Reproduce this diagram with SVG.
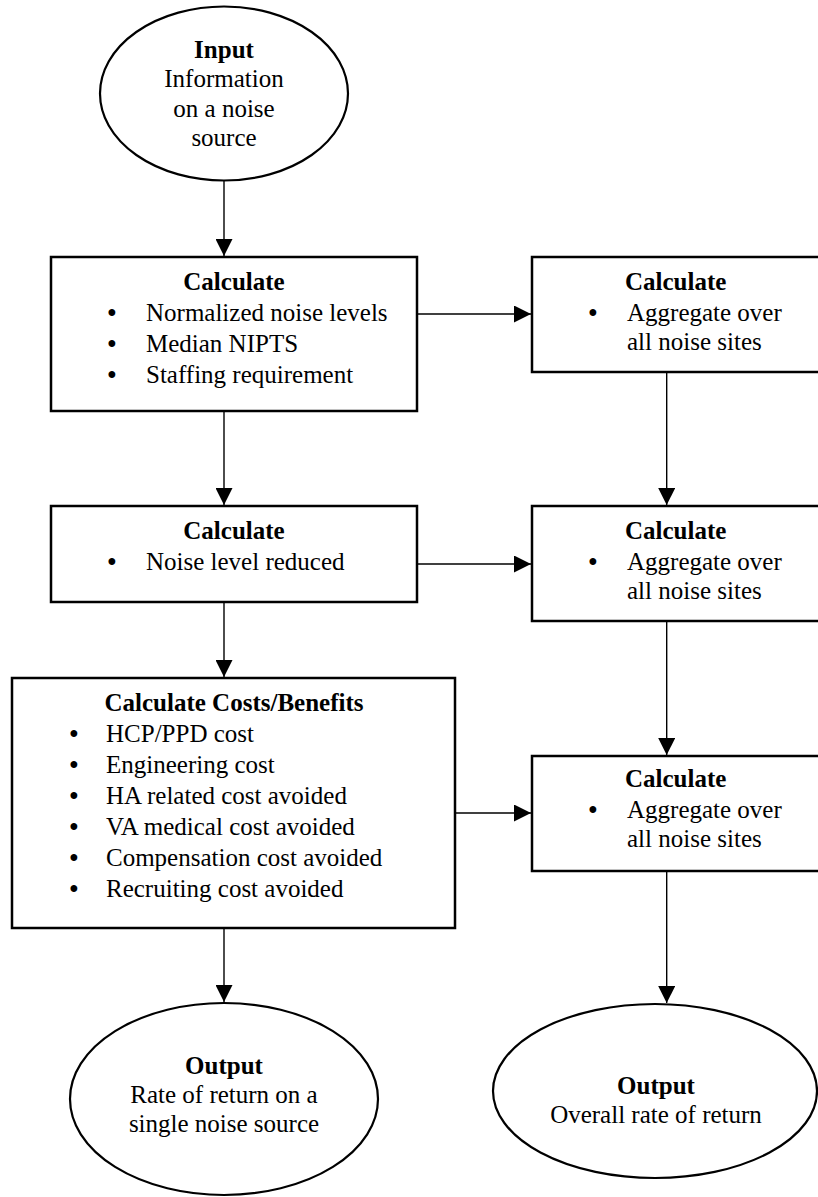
<svg xmlns="http://www.w3.org/2000/svg" width="818" height="1197" viewBox="0 0 818 1197">
<style>
  text { font-family: "Liberation Serif", "DejaVu Serif", serif; font-size: 25px; fill: #000; }
  .b { font-weight: bold; }
  .c { text-anchor: middle; }
  .bu { text-anchor: middle; font-weight: bold; }
  .box { fill: #fff; stroke: #000; stroke-width: 2.5; }
  .ell { fill: #fff; stroke: #000; stroke-width: 2.2; }
  .conn { stroke: #000; stroke-width: 1.4; fill: none; marker-end: url(#arr); }
</style>
<defs>
  <marker id="arr" markerUnits="userSpaceOnUse" markerWidth="17" markerHeight="17" viewBox="0 0 16 16" refX="16" refY="8" orient="auto">
    <path d="M0,0 L16,8 L0,16 Z" fill="#000"/>
  </marker>
</defs>
<rect width="818" height="1197" fill="#fff"/>

<g id="connectors">
  <line class="conn" x1="224" y1="181" x2="224" y2="256"/>
  <line class="conn" x1="418" y1="314" x2="531" y2="314"/>
  <line class="conn" x1="224" y1="412" x2="224" y2="505"/>
  <line class="conn" x1="666.7" y1="373" x2="666.7" y2="505"/>
  <line class="conn" x1="418" y1="564" x2="531" y2="564"/>
  <line class="conn" x1="224" y1="603" x2="224" y2="677"/>
  <line class="conn" x1="666.7" y1="622" x2="666.7" y2="755"/>
  <line class="conn" x1="456" y1="813" x2="531" y2="813"/>
  <line class="conn" x1="224" y1="929" x2="224" y2="1002"/>
  <line class="conn" x1="666.7" y1="872" x2="666.7" y2="1003"/>
</g>

<g id="input">
  <ellipse class="ell" cx="224" cy="93.5" rx="124" ry="87"/>
  <text class="b c" x="224" y="58">Input</text>
  <text class="c" x="224" y="87">Information</text>
  <text class="c" x="224" y="117">on a noise</text>
  <text class="c" x="224" y="146">source</text>
</g>

<g id="calc1">
  <rect class="box" x="51" y="257" width="366" height="154"/>
  <text class="b c" x="234" y="290">Calculate</text>
  <text class="bu" x="112" y="321">•</text><text x="146" y="321">Normalized noise levels</text>
  <text class="bu" x="112" y="352">•</text><text x="146" y="352">Median NIPTS</text>
  <text class="bu" x="112" y="383">•</text><text x="146" y="383">Staffing requirement</text>
</g>

<g id="agg1">
  <rect class="box" x="532" y="257" width="300" height="115"/>
  <text class="b" x="625" y="290">Calculate</text>
  <text class="bu" x="593" y="321">•</text><text x="627" y="321">Aggregate over</text>
  <text x="627" y="350">all noise sites</text>
</g>

<g id="calc2">
  <rect class="box" x="51" y="506" width="366" height="96"/>
  <text class="b c" x="234" y="539">Calculate</text>
  <text class="bu" x="112" y="570">•</text><text x="146" y="570">Noise level reduced</text>
</g>

<g id="agg2">
  <rect class="box" x="532" y="506" width="300" height="115"/>
  <text class="b" x="625" y="539">Calculate</text>
  <text class="bu" x="593" y="570">•</text><text x="627" y="570">Aggregate over</text>
  <text x="627" y="599">all noise sites</text>
</g>

<g id="costs">
  <rect class="box" x="12" y="678" width="443" height="250"/>
  <text class="b c" x="234" y="711">Calculate Costs/Benefits</text>
  <text class="bu" x="74" y="742">•</text><text x="106" y="742">HCP/PPD cost</text>
  <text class="bu" x="74" y="773">•</text><text x="106" y="773">Engineering cost</text>
  <text class="bu" x="74" y="804">•</text><text x="106" y="804">HA related cost avoided</text>
  <text class="bu" x="74" y="835">•</text><text x="106" y="835">VA medical cost avoided</text>
  <text class="bu" x="74" y="866">•</text><text x="106" y="866">Compensation cost avoided</text>
  <text class="bu" x="74" y="897">•</text><text x="106" y="897">Recruiting cost avoided</text>
</g>

<g id="agg3">
  <rect class="box" x="532" y="756" width="300" height="115"/>
  <text class="b" x="625" y="787">Calculate</text>
  <text class="bu" x="593" y="818">•</text><text x="627" y="818">Aggregate over</text>
  <text x="627" y="847">all noise sites</text>
</g>

<g id="output1">
  <ellipse class="ell" cx="224" cy="1099" rx="154" ry="96"/>
  <text class="b c" x="224" y="1074">Output</text>
  <text class="c" x="224" y="1103">Rate of return on a</text>
  <text class="c" x="224" y="1132">single noise source</text>
</g>

<g id="output2">
  <ellipse class="ell" cx="655" cy="1091" rx="162" ry="87"/>
  <text class="b c" x="656" y="1094">Output</text>
  <text class="c" x="656" y="1123">Overall rate of return</text>
</g>
</svg>
